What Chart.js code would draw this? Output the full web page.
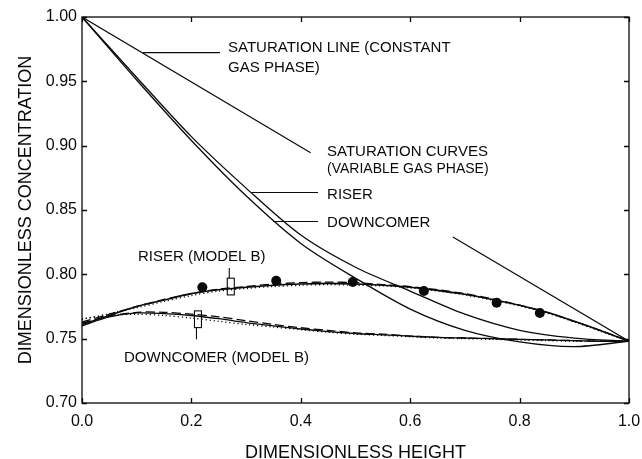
<!DOCTYPE html>
<html>
<head>
<meta charset="utf-8">
<script src="https://cdn.jsdelivr.net/npm/chart.js@4"></script>
<style>
  html, body { margin: 0; padding: 0; background: #fff; }
  #wrap { width: 642px; height: 459px; }
</style>
</head>
<body>
<div id="wrap"><canvas id="chart"></canvas></div>
<script>
// saturation line, constant gas phase (broken where the labels sit)
const satLineX = [0, 0.418, 0.55, 0.678, 1.0];
const satLineY = [1.000, 0.8945, null, 0.829, 0.748];

// saturation curves, variable gas phase
const satCurveX = [0, 0.1, 0.2, 0.3, 0.4, 0.5, 0.6, 0.7, 0.8, 0.9, 1.0];
const satRiserY = [1.000, 0.953, 0.907, 0.867, 0.8305, 0.8055, 0.787, 0.769, 0.7565, 0.7505, 0.748];
const satDownY  = [1.000, 0.951, 0.904, 0.861, 0.824, 0.797, 0.773, 0.7565, 0.7475, 0.7438, 0.748];

// model B profiles (solid / dashed / dotted)
const modelX = [0, 0.05, 0.1, 0.15, 0.2, 0.25, 0.3, 0.35, 0.4, 0.45, 0.5, 0.55, 0.6, 0.65, 0.7, 0.75, 0.8, 0.85, 0.9, 0.95, 1.0];
const riserSolid  = [0.761, 0.768, 0.775, 0.780, 0.785, 0.788, 0.790, 0.7915, 0.7925, 0.793, 0.7925, 0.7915, 0.790, 0.7875, 0.7845, 0.7805, 0.776, 0.7705, 0.7635, 0.756, 0.748];
const riserDashed = [0.763, 0.769, 0.775, 0.7805, 0.785, 0.7885, 0.7905, 0.7925, 0.7935, 0.794, 0.7935, 0.792, 0.7905, 0.788, 0.785, 0.781, 0.776, 0.7705, 0.7635, 0.756, 0.748];
const riserDotted = [0.765, 0.7695, 0.774, 0.779, 0.7835, 0.787, 0.789, 0.7905, 0.7915, 0.792, 0.7915, 0.791, 0.7895, 0.787, 0.784, 0.780, 0.7755, 0.770, 0.763, 0.7555, 0.748];
const downSolid   = [0.760, 0.767, 0.770, 0.7695, 0.768, 0.7655, 0.7625, 0.760, 0.7575, 0.7555, 0.754, 0.753, 0.752, 0.751, 0.7505, 0.750, 0.7495, 0.749, 0.7485, 0.748, 0.748];
const downDashed  = [0.762, 0.7675, 0.7705, 0.7705, 0.769, 0.767, 0.764, 0.761, 0.7585, 0.7565, 0.7545, 0.7535, 0.752, 0.751, 0.7505, 0.750, 0.7495, 0.749, 0.7485, 0.748, 0.748];
const downDotted  = [0.7655, 0.768, 0.769, 0.768, 0.766, 0.7635, 0.761, 0.759, 0.757, 0.755, 0.7535, 0.7525, 0.7515, 0.7505, 0.750, 0.7495, 0.749, 0.7485, 0.748, 0.748, 0.748];

// measured riser concentrations
const measX = [0.22, 0.355, 0.495, 0.625, 0.758, 0.837];
const measY = [0.790, 0.795, 0.794, 0.787, 0.778, 0.770];

// open box markers with a whisker: x, box low, box high, whisker end
const boxX  = [0.272, 0.212];
const boxLo = [0.784, 0.7586];
const boxHi = [0.797, 0.7716];
const boxWhisker = [0.805, 0.7495];

// text notes, placed in data units (left edge, vertical centre)
const notes = [
  { text: 'SATURATION LINE (CONSTANT', x: 0.267, y: 0.976, size: 15 },
  { text: 'GAS PHASE)', x: 0.267, y: 0.9606, size: 15 },
  { text: 'SATURATION CURVES', x: 0.448, y: 0.8953, size: 15 },
  { text: '(VARIABLE GAS PHASE)', x: 0.448, y: 0.8821, size: 14 },
  { text: 'RISER', x: 0.448, y: 0.8618, size: 15 },
  { text: 'DOWNCOMER', x: 0.448, y: 0.840, size: 15 },
  { text: 'RISER (MODEL B)', x: 0.1024, y: 0.8138, size: 15 },
  { text: 'DOWNCOMER (MODEL B)', x: 0.0768, y: 0.7352, size: 15 }
];
// leader lines: [x1, x2, y]
const leaders = [
  [0.1115, 0.2523, 0.9723],
  [0.310, 0.4314, 0.8636],
  [0.3497, 0.4314, 0.8411]
];

const pts = (xs, ys) => xs.map((x, i) => ({ x: x, y: ys[i] }));
const INK = '#0a0a0a';
const FONT = '"Liberation Sans", Arial, sans-serif';

function line(data, dash, width) {
  return {
    data: data,
    borderColor: INK,
    borderWidth: width || 1.3,
    borderDash: dash || [],
    pointRadius: 0,
    fill: false,
    tension: 0.3,
    spanGaps: false
  };
}

const decor = {
  id: 'decor',
  afterDatasetsDraw(chart) {
    const { ctx, chartArea: a, scales } = chart;
    const sx = scales.x, sy = scales.y;
    ctx.save();
    ctx.strokeStyle = INK;
    ctx.lineWidth = 1.3;

    // frame
    ctx.strokeRect(a.left, a.top, a.right - a.left, a.bottom - a.top);

    // inward tick marks on every side
    const len = 5;
    ctx.beginPath();
    sx.ticks.forEach(t => {
      const px = Math.round(sx.getPixelForValue(t.value)) + 0.5;
      ctx.moveTo(px, a.bottom); ctx.lineTo(px, a.bottom - len);
      ctx.moveTo(px, a.top); ctx.lineTo(px, a.top + len);
    });
    sy.ticks.forEach(t => {
      const py = Math.round(sy.getPixelForValue(t.value)) + 0.5;
      ctx.moveTo(a.left, py); ctx.lineTo(a.left + len, py);
      ctx.moveTo(a.right, py); ctx.lineTo(a.right - len, py);
    });
    ctx.stroke();

    // leader lines
    ctx.lineWidth = 1.1;
    ctx.beginPath();
    leaders.forEach(l => {
      const py = sy.getPixelForValue(l[2]);
      ctx.moveTo(sx.getPixelForValue(l[0]), py);
      ctx.lineTo(sx.getPixelForValue(l[1]), py);
    });
    ctx.stroke();

    // box markers
    boxX.forEach((bx, i) => {
      const px = sx.getPixelForValue(bx);
      const top = sy.getPixelForValue(boxHi[i]);
      const bot = sy.getPixelForValue(boxLo[i]);
      const w = sy.getPixelForValue(boxWhisker[i]);
      ctx.strokeRect(px - 3.5, top, 7, bot - top);
      ctx.beginPath();
      const from = boxWhisker[i] > boxHi[i] ? top : bot;
      ctx.moveTo(px - 1.5, from);
      ctx.lineTo(px - 1.5, w);
      ctx.stroke();
    });

    // notes
    ctx.fillStyle = INK;
    ctx.textAlign = 'left';
    ctx.textBaseline = 'middle';
    notes.forEach(n => {
      ctx.font = n.size + 'px ' + FONT;
      ctx.fillText(n.text, sx.getPixelForValue(n.x), sy.getPixelForValue(n.y));
    });
    ctx.restore();
  }
};

Chart.defaults.font.family = FONT;
Chart.defaults.color = INK;

new Chart(document.getElementById('chart'), {
  type: 'line',
  data: {
    datasets: [
      {
        data: pts(measX, measY),
        showLine: false,
        pointRadius: 5,
        pointBackgroundColor: INK,
        pointBorderColor: INK,
        pointBorderWidth: 0
      },
      Object.assign(line(pts(satLineX, satLineY), [], 1.2), { tension: 0 }),
      line(pts(satCurveX, satRiserY)),
      line(pts(satCurveX, satDownY)),
      line(pts(modelX, riserSolid), [], 1.6),
      line(pts(modelX, riserDashed), [9, 4], 1.3),
      line(pts(modelX, riserDotted), [1.2, 2.8], 1.3),
      line(pts(modelX, downSolid), [], 1.3),
      line(pts(modelX, downDashed), [9, 4], 1.3),
      line(pts(modelX, downDotted), [1.2, 2.8], 1.3)
    ]
  },
  options: {
    responsive: true,
    maintainAspectRatio: false,
    animation: false,
    layout: { padding: { top: 17, right: 13, bottom: 0, left: 0 } },
    plugins: { legend: { display: false }, tooltip: { enabled: false } },
    scales: {
      x: {
        type: 'linear',
        min: 0, max: 1,
        afterFit: s => { s.height = 56; s.paddingLeft = 0; s.paddingRight = 0; },
        grid: { display: false, drawTicks: false },
        border: { display: false },
        ticks: {
          stepSize: 0.2,
          padding: 9,
          maxRotation: 0,
          font: { size: 16 },
          callback: v => v.toFixed(1)
        },
        title: {
          display: true,
          text: 'DIMENSIONLESS HEIGHT',
          font: { size: 18, lineHeight: 1 },
          padding: { top: 0, bottom: -3 }
        }
      },
      y: {
        min: 0.70, max: 1.00,
        afterFit: s => { s.width = 82; },
        grid: { display: false, drawTicks: false },
        border: { display: false },
        ticks: {
          stepSize: 0.05,
          padding: 5,
          font: { size: 16 },
          callback: v => v.toFixed(2)
        },
        title: {
          display: true,
          text: 'DIMENSIONLESS CONCENTRATION',
          font: { size: 18, lineHeight: 1 },
          padding: { top: 17, bottom: 0 }
        }
      }
    }
  },
  plugins: [decor]
});
</script>
</body>
</html>
